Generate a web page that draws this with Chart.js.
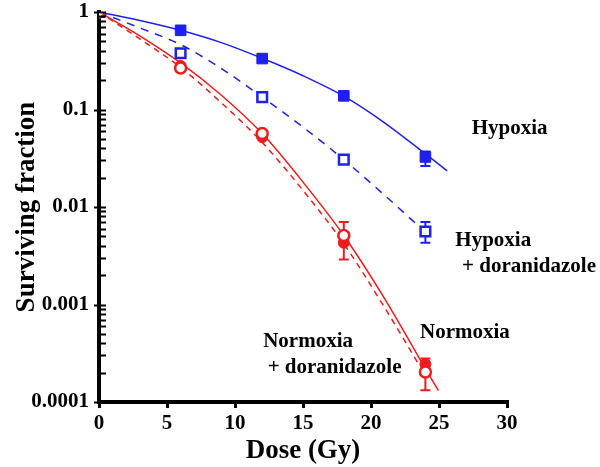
<!DOCTYPE html>
<html>
<head>
<meta charset="utf-8">
<script src="https://cdn.jsdelivr.net/npm/chart.js@4/dist/chart.umd.min.js"></script>
<style>
  html, body { margin: 0; padding: 0; background: #fff; }
  #wrap { width: 600px; height: 467px; }
</style>
</head>
<body>
<div id="wrap"><canvas id="survival"></canvas></div>
<script>
// measured points
const doses = [0, 6, 12, 18, 24];
const hypoxia      = [1, 0.649, 0.333, 0.138, 0.0326];
const hypoxiaDora  = [1, 0.378, 0.134, 0.0306, 0.0056];
const normoxia     = [1, 0.28, 0.052, 0.0043, 0.000245];
const normoxiaDora = [1, 0.267, 0.0566, 0.0051, 0.000203];

// error bars (null = none drawn)
const hypoxiaLow       = [null, null, null, null, 0.0264];
const hypoxiaHigh      = [null, null, null, null, 0.037];
const hypoxiaDoraLow   = [null, null, null, null, 0.0043];
const hypoxiaDoraHigh  = [null, null, null, null, 0.007];
const normoxiaLow      = [null, null, null, null, 0.00022];
const normoxiaHigh     = [null, null, null, null, 0.000279];
const normoxiaDoraLow  = [null, null, null, 0.0029, 0.000132];
const normoxiaDoraHigh = [null, null, null, 0.007, 0.00022];

// fitted curves
const fitDoseHyp      = [0, 3, 6, 9, 12, 15, 18, 21, 24, 25.6];
const fitHypoxia      = [1, 0.82, 0.65, 0.485, 0.335, 0.222, 0.137, 0.073, 0.035, 0.0235];
const fitDoseHypDora  = [0, 3, 6, 9, 12, 15, 18, 21, 24];
const fitHypoxiaDora  = [1, 0.686, 0.463, 0.263, 0.134, 0.066, 0.0306, 0.0132, 0.0055];
const fitDoseNorm     = [0, 3, 6, 9, 12, 15, 18, 21, 24, 24.96];
const fitNormoxia     = [1, 0.57, 0.30, 0.14, 0.0566, 0.018, 0.0051, 0.00115, 0.00022, 0.000131];
const fitDoseNormDora = [0, 3, 6, 9, 12, 15, 18, 21, 23.6];
const fitNormoxiaDora = [1, 0.53, 0.27, 0.117, 0.046, 0.0148, 0.0042, 0.00093, 0.000232];

const xTicks = [0, 5, 10, 15, 20, 25, 30];
const yTicks = [1, 0.1, 0.01, 0.001, 0.0001];

// text labels placed in data units: [text, dose, fraction]
const labels = [
  ['Hypoxia', 27.4, 0.0637],
  ['Hypoxia', 26.2, 0.0045],
  ['+ doranidazole', 26.7, 0.00247],
  ['Normoxia', 23.6, 0.000514],
  ['Normoxia', 12.07, 0.000416],
  ['+ doranidazole', 12.4, 0.000224],
];

const BLUE = '#1f1ff2';
const RED  = '#ee1c1c';
const FONT = '"Liberation Serif", "Times New Roman", serif';

const pts = (xs, ys) => xs.map((x, i) => ({ x: x, y: ys[i] }));

function curve(xs, ys, color, dash, order) {
  return {
    data: pts(xs, ys), showLine: true, borderColor: color, borderWidth: 1.5,
    borderDash: dash, pointRadius: 0, cubicInterpolationMode: 'monotone',
    fill: false, order: order,
  };
}

function marks(ys, color, filled, shape, radius, low, high, order) {
  return {
    data: pts(doses, ys), showLine: false, pointStyle: shape, pointRadius: radius,
    pointBorderWidth: filled ? 1 : 2.5, pointBorderColor: color,
    pointBackgroundColor: filled ? color : '#fff', errLow: low, errHigh: high,
    errColor: color, order: order,
  };
}

const errorBars = {
  id: 'errorBars',
  beforeDatasetsDraw(chart) {
    const { ctx, scales: { x, y } } = chart;
    ctx.save();
    ctx.lineWidth = 2;
    chart.data.datasets.forEach(ds => {
      if (!ds.errLow) return;
      ctx.strokeStyle = ds.errColor;
      ds.data.forEach((p, i) => {
        const lo = ds.errLow[i], hi = ds.errHigh[i];
        if (lo == null) return;
        const px = x.getPixelForValue(p.x);
        const y1 = y.getPixelForValue(lo), y2 = y.getPixelForValue(hi);
        ctx.beginPath();
        ctx.moveTo(px, y1); ctx.lineTo(px, y2);
        ctx.moveTo(px - 5, y1); ctx.lineTo(px + 5, y1);
        ctx.moveTo(px - 5, y2); ctx.lineTo(px + 5, y2);
        ctx.stroke();
      });
    });
    ctx.restore();
  }
};

const logTicks = {
  id: 'logTicks',
  afterDraw(chart) {
    const { ctx, chartArea, scales: { y } } = chart;
    const ax = chartArea.left;
    ctx.save();
    ctx.strokeStyle = '#000';
    ctx.lineWidth = 2;
    ctx.beginPath();
    for (let d = -4; d <= 0; d++) {
      for (let k = 1; k <= 9; k++) {
        const v = k * Math.pow(10, d);
        if (v > 1.0000001) break;
        const py = Math.round(y.getPixelForValue(v)) + 0.5;
        ctx.moveTo(k === 1 ? ax - 5 : ax, py);
        ctx.lineTo(ax + 7, py);
      }
    }
    ctx.stroke();

    ctx.fillStyle = '#000';
    ctx.font = 'bold 21px ' + FONT;
    ctx.textAlign = 'left';
    ctx.textBaseline = 'middle';
    labels.forEach(([t, dx, fy]) => {
      ctx.fillText(t, chart.scales.x.getPixelForValue(dx), y.getPixelForValue(fy));
    });
    ctx.restore();
  }
};

new Chart(document.getElementById('survival'), {
  type: 'scatter',
  data: {
    datasets: [
      marks(normoxiaDora, RED, false, 'circle', 5.5, normoxiaDoraLow, normoxiaDoraHigh, 1),
      marks(hypoxiaDora, BLUE, false, 'rect', 6.8, hypoxiaDoraLow, hypoxiaDoraHigh, 2),
      marks(normoxia, RED, true, 'circle', 5.5, normoxiaLow, normoxiaHigh, 3),
      marks(hypoxia, BLUE, true, 'rect', 7.5, hypoxiaLow, hypoxiaHigh, 4),
      curve(fitDoseHyp, fitHypoxia, BLUE, [], 5),
      curve(fitDoseHypDora, fitHypoxiaDora, BLUE, [8, 7], 6),
      curve(fitDoseNorm, fitNormoxia, RED, [], 7),
      curve(fitDoseNormDora, fitNormoxiaDora, RED, [6, 5], 8),
    ]
  },
  options: {
    responsive: true,
    maintainAspectRatio: false,
    animation: false,
    layout: { padding: { left: 0, right: 93, top: 12, bottom: 0 } },
    plugins: { legend: { display: false }, tooltip: { enabled: false } },
    scales: {
      x: {
        type: 'linear', min: 0, max: 30,
        afterBuildTicks: s => { s.ticks = xTicks.map(v => ({ value: v })); },
        afterFit: s => { s.height = 65; s.paddingLeft = 0; s.paddingRight = 0; },
        ticks: { color: '#000', padding: 3, font: { family: FONT, size: 21, weight: 'bold' } },
        grid: { drawOnChartArea: false, drawTicks: true, tickLength: 6, color: '#000', lineWidth: 3 },
        border: { color: '#000', width: 4 },
        title: {
          display: true, text: 'Dose (Gy)', color: '#000',
          font: { family: FONT, size: 27, weight: 'bold' }, padding: { top: 0, bottom: 0 }
        }
      },
      y: {
        type: 'logarithmic', min: 0.0001, max: 1,
        afterBuildTicks: s => { s.ticks = yTicks.map(v => ({ value: v })); },
        afterFit: s => { s.width = 99; s.paddingTop = 0; s.paddingBottom = 0; },
        ticks: {
          color: '#000', padding: 10, autoSkip: false,
          font: { family: FONT, size: 21, weight: 'bold' },
          callback: v => String(v)
        },
        grid: { display: false, drawTicks: false },
        border: { color: '#000', width: 4 },
        title: {
          display: true, text: 'Surviving fraction', color: '#000',
          font: { family: FONT, size: 27, weight: 'bold' }, padding: { top: 11, bottom: 0 }
        }
      }
    }
  },
  plugins: [errorBars, logTicks]
});
</script>
</body>
</html>
